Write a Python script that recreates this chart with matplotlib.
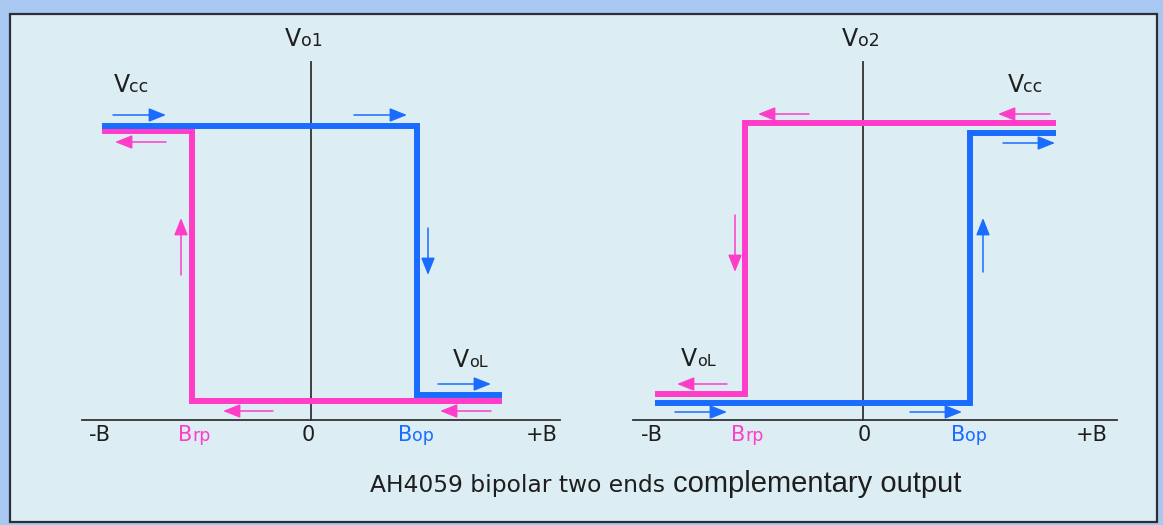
import matplotlib
matplotlib.use("Agg")
import matplotlib.pyplot as plt
from matplotlib.patches import Rectangle
from matplotlib.offsetbox import TextArea, HPacker, AnnotationBbox

BLUE = "#1a6cff"
PINK = "#ff3dc8"
INK = "#1e1e1e"

# field axis labels and their x positions
B_LABELS = ["-B", "Brp", "0", "Bop", "+B"]
LEFT_B_POS = [-211, -117, -3, 105, 231]
RIGHT_B_POS = [-211, -116, 1, 106, 229]

# left panel (Vo1): blue = rising field, pink = falling field
LEFT_BLUE_X = [-209, 106, 106, 191]
LEFT_BLUE_Y = [294, 294, 25, 25]
LEFT_PINK_X = [-209, -119, -119, 191]
LEFT_PINK_Y = [289, 289, 19, 19]

# right panel (Vo2)
RIGHT_PINK_X = [193, -118, -118, -208]
RIGHT_PINK_Y = [297, 297, 26, 26]
RIGHT_BLUE_X = [193, 107, 107, -208]
RIGHT_BLUE_Y = [287, 287, 17, 17]

# direction arrows: (x0, y0, x1, y1, colour)
LEFT_ARROWS = [
    (-198, 305, -145, 305, BLUE),
    (-145, 278, -196, 278, PINK),
    (43, 305, 96, 305, BLUE),
    (117, 192, 117, 145, BLUE),
    (-130, 145, -130, 202, PINK),
    (127, 36, 180, 36, BLUE),
    (180, 9, 129, 9, PINK),
    (-38, 9, -88, 9, PINK),
]
RIGHT_ARROWS = [
    (-54, 306, -105, 306, PINK),
    (187, 306, 135, 306, PINK),
    (140, 277, 192, 277, BLUE),
    (-128, 205, -128, 148, PINK),
    (120, 148, 120, 202, BLUE),
    (-136, 36, -186, 36, PINK),
    (-188, 8, -136, 8, BLUE),
    (47, 8, 99, 8, BLUE),
]

fig = plt.figure(figsize=(11.63, 5.25), dpi=100)
fig.patch.set_facecolor("#a8c8f2")

bg = fig.add_axes([0, 0, 1, 1])
bg.set_xlim(0, 1163)
bg.set_ylim(525, 0)
bg.axis("off")
bg.add_patch(Rectangle((10, 14), 1147, 508, facecolor="#dcedf3",
                       edgecolor="#2b3036", lw=1.6))


def split_label(ax, x, y, big, small, color, big_size, small_size):
    parts = [TextArea(big, textprops=dict(size=big_size, color=color))]
    if small:
        parts.append(TextArea(small, textprops=dict(size=small_size, color=color)))
    box = HPacker(children=parts, align="baseline", pad=0, sep=0)
    ab = AnnotationBbox(box, (x, y), frameon=False, box_alignment=(0.5, 0.5),
                        pad=0)
    ax.add_artist(ab)


def draw_panel(ax, x_axis, y_top, curves, arrows, b_pos, vo_name, vo_pos,
               vcc_pos, vol_pos):
    ax.plot(x_axis, [0, 0], color="#333333", lw=1.3)
    ax.plot([0, 0], [0, y_top], color="#333333", lw=1.3)
    for xs, ys, c in curves:
        ax.plot(xs, ys, color=c, lw=4.3, solid_joinstyle="miter",
                solid_capstyle="butt")
    for x0, y0, x1, y1, c in arrows:
        ax.annotate("", xy=(x1, y1), xytext=(x0, y0),
                    arrowprops=dict(arrowstyle="-|>,head_length=0.75,head_width=0.3",
                                    color=c, lw=1.1, shrinkA=0, shrinkB=0,
                                    mutation_scale=14))
    colors = {"Brp": PINK, "Bop": BLUE}
    for lab, xp in zip(B_LABELS, b_pos):
        c = colors.get(lab, INK)
        if lab in colors:
            split_label(ax, xp, -15, lab[0], lab[1:], c, 15, 12.5)
        else:
            split_label(ax, xp, -15, lab, "", c, 15, 12.5)
    split_label(ax, vo_pos[0], vo_pos[1], "V", vo_name, INK, 17, 12.5)
    split_label(ax, vcc_pos[0], vcc_pos[1], "V", "cc", INK, 17, 12.5)
    split_label(ax, vol_pos[0], vol_pos[1], "V", "oL", INK, 17, 11.5)


left = fig.add_axes([0, 0, 0.5, 1])
left.set_xlim(-311, 270.5)
left.set_ylim(-105, 420)
left.axis("off")
draw_panel(left, [-229, 249], 358,
           [(LEFT_PINK_X, LEFT_PINK_Y, PINK), (LEFT_BLUE_X, LEFT_BLUE_Y, BLUE)],
           LEFT_ARROWS, LEFT_B_POS, "o1", (-7, 381), (-180, 335), (159, 60))

right = fig.add_axes([0.5, 0, 0.5, 1])
right.set_xlim(-281.5, 300)
right.set_ylim(-105, 420)
right.axis("off")
draw_panel(right, [-230, 254], 358,
           [(RIGHT_BLUE_X, RIGHT_BLUE_Y, BLUE), (RIGHT_PINK_X, RIGHT_PINK_Y, PINK)],
           RIGHT_ARROWS, RIGHT_B_POS, "o2", (-2, 381), (162, 335), (-165, 61))

bg.text(665, 492, "AH4059 bipolar two ends", ha="right", va="baseline",
        size=16.8, color=INK)
bg.text(673, 492, "complementary output", ha="left", va="baseline",
        size=21, color=INK, family="Liberation Sans")

fig.savefig("out.png", dpi=100, facecolor=fig.get_facecolor())
